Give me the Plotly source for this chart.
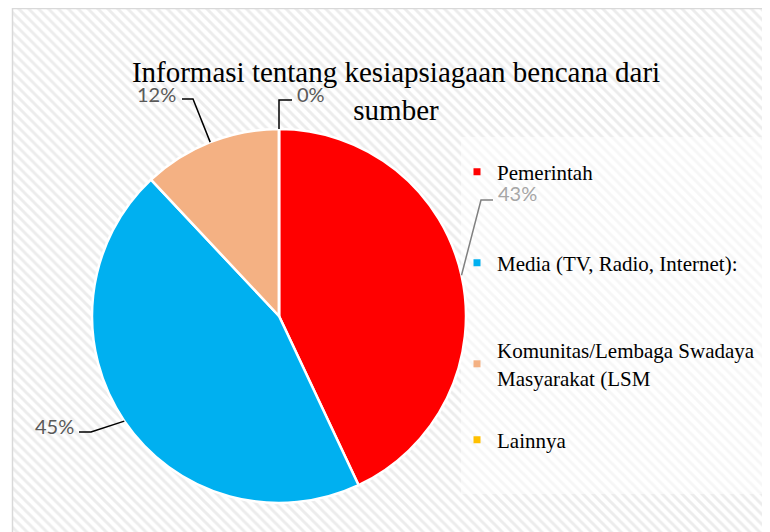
import math
import textwrap
import plotly.graph_objects as go

# ---- data ----
title_text = "Informasi tentang kesiapsiagaan bencana dari sumber"
labels = ["Pemerintah", "Media (TV, Radio, Internet):",
          "Komunitas/Lembaga Swadaya Masyarakat (LSM", "Lainnya"]
values = [43, 45, 12, 0]
colors = ["#FF0000", "#00B0F0", "#F4B183", "#FFC000"]

# ---- layout constants (screen pixels; page body has an 8px margin) ----
W, H = 770, 532
OFF = 8
CX, CY, R = 279, 316, 187          # pie centre / radius
label_layout = [
    dict(elbow=(481, 200), stub=(493, 200), tx=496, ty=193, anchor="left",
         tcolor="#A6A6A6", lcolor="#808080"),
    dict(elbow=(91, 432), stub=(79, 432), tx=76, ty=426, anchor="right",
         tcolor="#595959", lcolor="#000000"),
    dict(elbow=(193, 99), stub=(182, 99), tx=178, ty=94, anchor="right",
         tcolor="#595959", lcolor="#000000"),
    dict(elbow=(279, 100), stub=(292, 100), tx=295, ty=94, anchor="left",
         tcolor="#595959", lcolor="#000000"),
]
legend_y = [172, 263, 364, 440]
legend_x = 457


def px(x):  # screen x -> paper fraction
    return (x - OFF) / W


def py(y):  # screen y -> paper fraction (from bottom)
    return 1 - (y - OFF) / H


fig = go.Figure()

# patterned chart-area background
fig.add_trace(go.Bar(
    x=[(12 + W + OFF) / 2], y=[H + OFF - 7], base=[7], width=[W + OFF - 12],
    marker=dict(color="white", line_width=0,
                pattern=dict(shape="\\", fgcolor="#D9D9D9", bgcolor="white",
                             size=7, solidity=0.42)),
    hoverinfo="skip", showlegend=False))
# lighter legend box
fig.add_trace(go.Bar(
    x=[(461 + W + OFF) / 2], y=[494 - 137], base=[137], width=[W + OFF - 461],
    marker=dict(color="rgba(255,255,255,0.55)", line_width=0),
    hoverinfo="skip", showlegend=False))

fig.add_trace(go.Pie(
    labels=labels, values=values, sort=False, direction="clockwise",
    rotation=0, marker=dict(colors=colors, line=dict(color="white", width=2.5)),
    textinfo="none", showlegend=False,
    domain=dict(x=[px(CX - R), px(CX + R)], y=[py(CY + R), py(CY - R)])))

# legend entries
for i, (lab, col) in enumerate(zip(labels, colors)):
    name = "<br>".join(textwrap.wrap(lab, 30))
    lg = "legend" if i == 0 else f"legend{i + 1}"
    fig.add_trace(go.Scatter(
        x=[None], y=[None], mode="markers", name=name,
        marker=dict(symbol="square", size=7, color=col),
        legend=lg, showlegend=True))

legends = {}
for i, yy in enumerate(legend_y):
    key = "legend" if i == 0 else f"legend{i + 1}"
    legends[key] = dict(x=px(legend_x), y=py(yy), xanchor="left", yanchor="middle",
                        bgcolor="rgba(0,0,0,0)", borderwidth=0, itemwidth=30,
                        font=dict(family="Liberation Serif", size=21, color="black"))

# data labels with leader lines
total = sum(values)
shapes = [dict(type="rect", xref="x", yref="y", x0=12.5, y0=OFF + 0.5,
               x1=W + OFF + 5, y1=H + OFF + 5,
               line=dict(color="#D9D9D9", width=1.5), layer="above")]
annotations = []
cum = 0
for v, ll in zip(values, label_layout):
    mid = (cum + v / 2) / total * 2 * math.pi
    cum += v
    ex = CX + R * math.sin(mid)
    ey = CY - R * math.cos(mid)
    (bx, by), (sx, sy) = ll["elbow"], ll["stub"]
    shapes.append(dict(type="path", xref="x", yref="y",
                       path=f"M {ex:.1f} {ey:.1f} L {bx} {by} L {sx} {sy}",
                       line=dict(color=ll["lcolor"], width=1.5), layer="above"))
    annotations.append(dict(x=ll["tx"], y=ll["ty"], xref="x", yref="y",
                            text=f"{round(v / total * 100)}%", showarrow=False,
                            xanchor=ll["anchor"], yanchor="middle",
                            font=dict(family="Lato", size=20, color=ll["tcolor"])))

title_lines = "<br>".join(textwrap.wrap(title_text, 45))
fig.update_layout(
    width=W, height=H, margin=dict(l=0, r=0, t=0, b=0),
    paper_bgcolor="white", plot_bgcolor="white", barmode="overlay",
    title=dict(text=title_lines, x=px(396), xanchor="center", y=py(82),
               yanchor="middle",
               font=dict(family="Liberation Serif", size=29, color="black")),
    xaxis=dict(range=[OFF, W + OFF], visible=False, fixedrange=True, domain=[0, 1]),
    yaxis=dict(range=[H + OFF, OFF], visible=False, fixedrange=True, domain=[0, 1]),
    shapes=shapes, annotations=annotations, **legends)

fig.write_html("out.html")
